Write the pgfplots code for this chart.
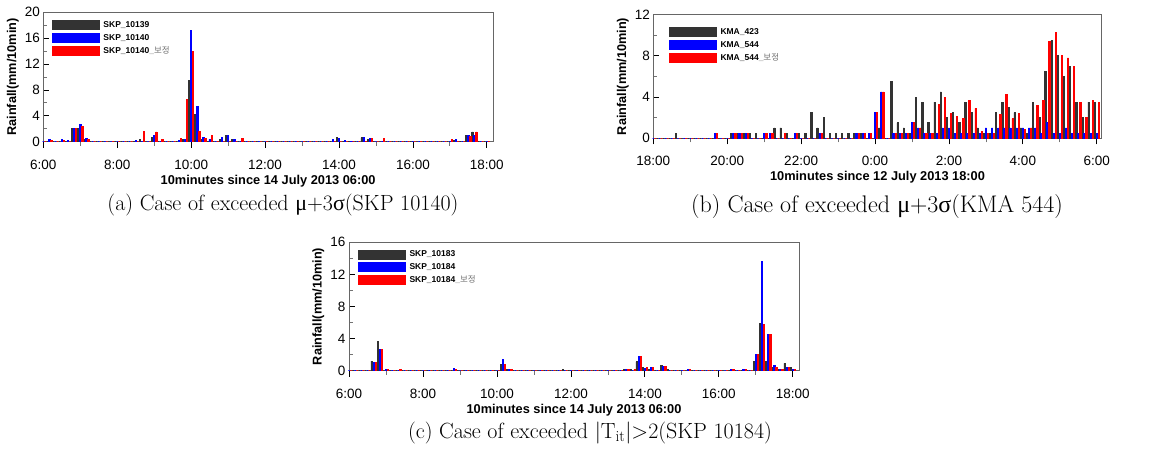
\documentclass[border=0pt]{standalone}
\usepackage{fontspec}
\usepackage{pgfplots}
\usepackage{pgfplotstable}
\pgfplotsset{compat=1.18}
\newfontfamily\arial{Liberation Sans}
\newfontfamily\kr{Noto Sans CJK KR}
\newfontfamily\grk{Liberation Serif}
\definecolor{bk}{HTML}{333333}
\definecolor{bl}{HTML}{0000FF}
\definecolor{rd}{HTML}{FF0000}

\pgfplotstableread{
k a b c
0 0 0 0
1 0 0.3 0.15
2 0 0 0
3 0 0.3 0.25
4 0 0.2 0
5 2.0 2.1 2.0
6 2.1 2.7 2.4
7 0.4 0.5 0.4
8 0 0 0
9 0 0 0
10 0 0 0
11 0 0 0
12 0 0 0
13 0 0 0
14 0 0 0
15 0.1 0.2 0
16 0.4 0 1.6
17 0 0 0
18 0.7 0.9 1.5
19 0 0 0.4
20 0 0 0
21 0 0 0
22 0 0.15 0.5
23 0.3 0.3 6.5
24 9.4 17.2 14.0
25 4.2 5.4 1.6
26 0.4 0.6 0.5
27 0.1 0.4 1.0
28 0 0 0
29 0.4 0.6 0
30 0.9 0.9 0
31 0.4 0.3 0
32 0 0 0.5
33 0 0 0
34 0 0 0
35 0 0 0
36 0 0 0
37 0 0 0
38 0 0 0
39 0 0 0
40 0 0 0
41 0 0 0
42 0 0 0
43 0 0 0
44 0 0 0
45 0 0 0
46 0 0 0
47 0 0.3 0
48 0.6 0.5 0
49 0 0.2 0
50 0.1 0.1 0
51 0 0 0
52 0.6 0.7 0.1
53 0.4 0.55 0.55
54 0 0 0
55 0 0 0.55
56 0 0 0
57 0 0 0
58 0 0 0
59 0 0 0
60 0 0 0
61 0 0 0
62 0 0 0
63 0 0 0
64 0 0 0
65 0 0 0
66 0 0.1 0.3
67 0.2 0.4 0
68 0 0 0
69 0.9 1.0 0.85
70 1.5 1.0 1.5
71 0 0 0
72 0 0 0
}\tA

\pgfplotstableread{
k a b c
0 0 0 0
1 0 0 0
2 0 0 0
3 0 0 0
4 0.5 0 0
5 0 0 0
6 0 0 0
7 0 0 0
8 0 0 0
9 0 0 0
10 0 0.5 0.5
11 0 0 0
12 0 0 0
13 0.5 0.5 0.5
14 0.5 0.5 0.5
15 0.5 0.5 0.5
16 0.5 0 0
17 0.5 0 0
18 0 0.5 0.5
19 0 0.5 0.5
20 1.0 0 0
21 1.0 0 0.5
22 0.5 0 0
23 0 0.5 0.5
24 0.5 0 0
25 0.5 0 0
26 2.5 0 0
27 1.0 0.5 0.5
28 2.0 0 0
29 0.5 0 0
30 0.5 0 0
31 0.5 0 0
32 0.5 0 0
33 0.5 0.5 0.5
34 0.5 0.5 0.5
35 0 0.5 0.5
36 0 2.5 2.5
37 1.0 4.5 4.5
38 0 0 0
39 5.5 0.5 0.5
40 1.5 0.5 0.5
41 1.0 0.5 0.5
42 0.5 1.5 1.5
43 4.0 1.0 1.0
44 3.5 0.5 0.5
45 1.5 0.5 0.5
46 3.5 0.5 3.3
47 4.5 1.0 4.0
48 2.0 1.0 2.4
49 2.5 0.5 2.1
50 1.5 0.5 1.9
51 3.5 0.5 3.7
52 2.5 0.5 2.9
53 1.0 0.5 0.7
54 0.5 1.0 0.5
55 0.5 1.0 0.45
56 2.5 1.0 2.3
57 3.5 1.0 4.3
58 3.0 1.0 1.9
59 2.5 1.0 2.4
60 1.0 1.0 0.9
61 0.5 1.0 1.0
62 3.5 1.0 3.2
63 2.0 0.5 3.7
64 6.5 1.5 9.4
65 9.5 0.5 10.3
66 8.0 0.5 8.0
67 6.0 1.0 7.8
68 7.0 0.5 7.0
69 3.5 0.5 3.5
70 2.0 0.5 2.0
71 3.5 0.5 3.7
72 3.5 0.5 3.5
}\tB

\pgfplotstableread{
k a b c
0 0 0 0
1 0 0 0
2 0 0 0
3 0 0 0
4 1.2 1.0 1.0
5 3.7 2.7 2.7
6 0 0.2 0.2
7 0 0 0
8 0 0 0.15
9 0 0 0
10 0 0 0
11 0 0 0
12 0 0 0
13 0 0 0
14 0 0 0
15 0 0 0
16 0 0 0
17 0 0.25 0.2
18 0 0 0
19 0 0 0
20 0 0 0
21 0 0 0
22 0 0 0
23 0 0 0
24 0 0 0
25 0.8 1.4 0.8
26 0.1 0.1 0.15
27 0 0 0
28 0 0 0
29 0 0 0
30 0 0 0
31 0 0 0
32 0 0 0
33 0 0 0
34 0 0 0
35 0.1 0 0
36 0 0 0
37 0 0 0
38 0 0 0
39 0 0 0
40 0 0 0
41 0 0 0
42 0 0 0
43 0 0 0
44 0 0 0
45 0.2 0.2 0.2
46 0.1 0 0.15
47 1.1 1.8 1.8
48 0.45 0.3 0.35
49 0.2 0.35 0.35
50 0 0 0
51 0.6 0.55 0.5
52 0.1 0 0
53 0 0 0
54 0 0 0
55 0 0.1 0.15
56 0 0 0
57 0 0 0
58 0 0 0
59 0 0 0
60 0 0 0
61 0 0 0
62 0 0.1 0.1
63 0 0 0
64 0 0.1 0.15
65 0 0 0
66 1.1 2.0 2.0
67 5.9 13.6 5.8
68 1.2 4.5 4.5
69 0.4 0.6 0.45
70 0.1 0.1 0.15
71 0.9 0.45 0.45
72 0.45 0.2 0.2
}\tC

\pgfplotsset{
  rainaxis/.style={
    scale only axis, clip=false,
    ymin=0, xmin=0,
    xtick={0,12,24,36,48,60,72},
    minor xtick={6,18,30,42,54,66},
    xtick pos=bottom, ytick pos=left,
    xtick align=outside, ytick align=inside,
    major tick length=6pt, minor tick length=4pt,
    every tick/.style={black, line width=0.8pt},
    minor tick style={black!55, line width=0.8pt},
    axis line style={black!60, line width=0.8pt},
    /pgf/number format/assume math mode=true,
    ticklabel style={font=\arial\fontsize{13.5}{14}\selectfont},
    xticklabel style={inner sep=1pt, yshift=-11pt},
    xlabel style={font=\arial\bfseries\fontsize{12.8}{14}\selectfont, inner sep=1pt, at={(axis description cs:0.5,0)}, anchor=center, yshift=-39pt},
    ylabel style={font=\arial\bfseries\fontsize{12.7}{14}\selectfont, at={(axis description cs:-0.068,0.5)}, anchor=center},
    ylabel={Rainfall(mm/10min)},
    legend style={draw=none, fill=none, anchor=north west, font=\arial\bfseries\fontsize{8.5}{9}\selectfont, row sep=3pt, inner sep=0pt, column sep=3pt, nodes={inner sep=0.5pt}},
    legend cell align=left,
  },
  sA/.style={ybar, bar shift=0pt, bar width=0.22, fill=bk, draw=bk, line width=0.8pt,
    legend image code/.code={\fill[bk] (0pt,-4.5pt) rectangle (47pt,4.5pt);}},
  sB/.style={ybar, bar shift=0pt, bar width=0.22, fill=bl, draw=bl, line width=0.8pt,
    legend image code/.code={\fill[bl] (0pt,-4.5pt) rectangle (47pt,4.5pt);}},
  sC/.style={ybar, bar shift=0pt, bar width=0.22, fill=rd, draw=rd, line width=0.8pt,
    legend image code/.code={\fill[rd] (0pt,-4.5pt) rectangle (47pt,4.5pt);}},
}
\newcommand{\bj}{{\color{black!55}\_\kr\mdseries 보정}}

\begin{document}
\begin{tikzpicture}
\path[use as bounding box] (0pt,0pt) rectangle (1155pt,452pt);

% (a)
\begin{axis}[rainaxis, at={(43.3pt,310.3pt)}, anchor=south west,
  width=449.7pt, height=129.4pt, xmax=73, ymax=20,
  ytick={0,4,...,20}, minor ytick={2,6,...,18},
  xticklabels={6:00,8:00,10:00,12:00,14:00,16:00,18:00},
  xlabel={10minutes since 14 July 2013 06:00},
  legend style={at={(axis description cs:0.0193,0.94)}}]
\addplot[sA, skip coords between index={0}{1}] table[x expr=\thisrow{k}-0.3333, y=a] {\tA};
\addlegendentry{SKP\_10139}
\addplot[sB] table[x=k, y=b] {\tA};
\addlegendentry{SKP\_10140}
\addplot[sC] table[x expr=\thisrow{k}+0.3333, y=c] {\tA};
\addlegendentry{SKP\_10140\bj}
\end{axis}

% (b)
\begin{axis}[rainaxis, at={(653.3pt,313.7pt)}, anchor=south west,
  width=448.4pt, height=123.6pt, xmax=72.8, ymax=12,
  ytick={0,4,8,12}, minor ytick={2,6,10},
  xticklabels={18:00,20:00,22:00,0:00,2:00,4:00,6:00},
  xlabel={10minutes since 12 July 2013 18:00},
  legend style={at={(axis description cs:0.035,0.90)}}]
\addplot[sA, skip coords between index={0}{1}] table[x expr=\thisrow{k}-0.3333, y=a] {\tB};
\addlegendentry{KMA\_423}
\addplot[sB] table[x=k, y=b] {\tB};
\addlegendentry{KMA\_544}
\addplot[sC] table[x expr=\thisrow{k}+0.3333, y=c] {\tB};
\addlegendentry{KMA\_544\bj}
\end{axis}

% (c)
\begin{axis}[rainaxis, at={(349pt,81.3pt)}, anchor=south west,
  width=450pt, height=128.4pt, xmax=73, ymax=16,
  ytick={0,4,...,16}, minor ytick={2,6,10,14},
  xticklabels={6:00,8:00,10:00,12:00,14:00,16:00,18:00},
  xlabel={10minutes since 14 July 2013 06:00},
  legend style={at={(axis description cs:0.02,0.945)}}]
\addplot[sA, skip coords between index={0}{1}] table[x expr=\thisrow{k}-0.3333, y=a] {\tC};
\addlegendentry{SKP\_10183}
\addplot[sB] table[x=k, y=b] {\tC};
\addlegendentry{SKP\_10184}
\addplot[sC] table[x expr=\thisrow{k}+0.3333, y=c] {\tC};
\addlegendentry{SKP\_10184\bj}
\end{axis}

\node[font=\fontsize{22}{26}\selectfont] at (283pt,247pt) {(a) Case of exceeded {\grk μ}+3{\grk σ}(SKP 10140)};
\node[font=\fontsize{24}{28}\selectfont] at (877pt,245pt) {(b) Case of exceeded {\grk μ}+3{\grk σ}(KMA 544)};
\node[font=\fontsize{22}{26}\selectfont] at (590pt,19pt) {(c) Case of exceeded |T\textsubscript{it}|>2(SKP 10184)};
\end{tikzpicture}
\end{document}
